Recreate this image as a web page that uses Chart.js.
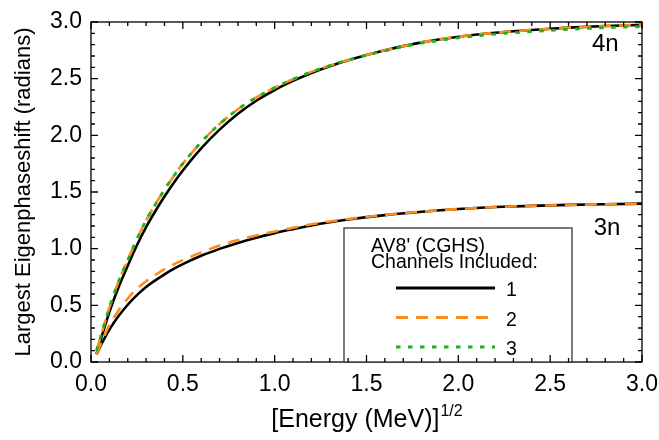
<!DOCTYPE html>
<html>
<head>
<meta charset="utf-8">
<script src="https://cdn.jsdelivr.net/npm/chart.js@4/dist/chart.umd.min.js"></script>
<style>
  html, body { margin: 0; padding: 0; background: #fff; }
  #wrap { width: 659px; height: 440px; }
</style>
</head>
<body>
<div id="wrap"><canvas id="c" width="659" height="440"></canvas></div>
<script>
// sqrt(Energy) grid (MeV^1/2)
const xValues = [0.03, 0.05, 0.1, 0.15, 0.2, 0.25, 0.3, 0.35, 0.4, 0.45, 0.5, 0.6, 0.7, 0.8, 0.9, 1.0, 1.1, 1.2, 1.3, 1.4, 1.6, 1.8, 2.0, 2.2, 2.4, 2.6, 2.8, 3.0];

// 4n largest eigenphaseshift
const n4_ch1 = [0.07, 0.18, 0.44, 0.66, 0.85, 1.03, 1.19, 1.33, 1.46, 1.58, 1.69, 1.885, 2.05, 2.19, 2.305, 2.40, 2.48, 2.55, 2.61, 2.662, 2.75, 2.82, 2.87, 2.905, 2.93, 2.95, 2.965, 2.975];
const n4_ch2 = [0.10, 0.21, 0.48, 0.71, 0.90, 1.085, 1.25, 1.39, 1.52, 1.64, 1.75, 1.94, 2.10, 2.23, 2.335, 2.42, 2.495, 2.56, 2.615, 2.665, 2.75, 2.82, 2.87, 2.905, 2.93, 2.95, 2.965, 2.975];
const n4_ch3 = [0.10, 0.21, 0.48, 0.71, 0.90, 1.085, 1.25, 1.39, 1.52, 1.64, 1.75, 1.94, 2.10, 2.23, 2.335, 2.42, 2.495, 2.56, 2.615, 2.665, 2.746, 2.813, 2.86, 2.893, 2.915, 2.935, 2.95, 2.96];

// 3n largest eigenphaseshift
const n3_ch1 = [0.07, 0.135, 0.285, 0.405, 0.505, 0.59, 0.662, 0.72, 0.774, 0.822, 0.864, 0.937, 0.998, 1.051, 1.097, 1.137, 1.172, 1.205, 1.233, 1.257, 1.296, 1.326, 1.35, 1.367, 1.378, 1.386, 1.392, 1.397];
const n3_ch2 = [0.07, 0.145, 0.325, 0.455, 0.56, 0.645, 0.712, 0.768, 0.819, 0.862, 0.899, 0.967, 1.028, 1.076, 1.117, 1.152, 1.184, 1.215, 1.24, 1.262, 1.298, 1.327, 1.35, 1.367, 1.378, 1.386, 1.392, 1.397];

const xTickLabels = ["0.0", "0.5", "1.0", "1.5", "2.0", "2.5", "3.0"];
const yTickLabels = ["0.0", "0.5", "1.0", "1.5", "2.0", "2.5", "3.0"];
const legendTitle = ["AV8' (CGHS)", "Channels Included:"];
const legendLabels = ["1", "2", "3"];
const curveLabels = [{ text: "4n", x: 2.80, y: 2.80 }, { text: "3n", x: 2.81, y: 1.18 }];

const BLACK = "#000000", ORANGE = "#ff8c1a", GREEN = "#18b418";
const FONT = "'Liberation Sans', Arial, sans-serif";
const styles = [
  { color: BLACK, dash: [], width: 2.6 },
  { color: ORANGE, dash: [12, 8], width: 2.6 },
  { color: GREEN, dash: [4.5, 7.5], width: 2.8 }
];

function pts(ys) { return xValues.map((x, i) => ({ x: x, y: ys[i] })); }
function ds(ys, s, order) {
  return { data: pts(ys), borderColor: styles[s].color, borderDash: styles[s].dash, borderWidth: styles[s].width,
           pointRadius: 0, fill: false, cubicInterpolationMode: 'monotone', order: order };
}

const framePlugin = {
  id: 'frame',
  afterDatasetsDraw(chart) {
    const ctx = chart.ctx, a = chart.chartArea;
    const xs = chart.scales.x, ys = chart.scales.y;
    ctx.save();
    ctx.strokeStyle = '#000'; ctx.lineWidth = 1.3; ctx.setLineDash([]);
    ctx.strokeRect(a.left, a.top, a.right - a.left, a.bottom - a.top);
    ctx.beginPath();
    for (let i = 0; i <= 30; i++) {
      const v = i / 10, major = i % 5 === 0;
      const L = major ? 7 : 4;
      const px = xs.getPixelForValue(v);
      ctx.moveTo(px, a.bottom); ctx.lineTo(px, a.bottom - L);
      ctx.moveTo(px, a.top); ctx.lineTo(px, a.top + L);
      const py = ys.getPixelForValue(v);
      ctx.moveTo(a.left, py); ctx.lineTo(a.left + L, py);
      ctx.moveTo(a.right, py); ctx.lineTo(a.right - L, py);
    }
    ctx.stroke();

    // curve labels
    ctx.fillStyle = '#000';
    ctx.font = "24px " + FONT;
    ctx.textAlign = 'center'; ctx.textBaseline = 'middle';
    curveLabels.forEach(c => ctx.fillText(c.text, xs.getPixelForValue(c.x), ys.getPixelForValue(c.y)));

    // legend box
    const bx = a.left + 253, by = a.top + 206, bw = 228, bh = a.bottom - by;
    ctx.fillStyle = '#fff';
    ctx.fillRect(bx, by, bw, bh);
    ctx.strokeStyle = '#333'; ctx.lineWidth = 1.3;
    ctx.strokeRect(bx, by, bw, bh);
    // redraw bottom ticks inside the legend box region
    ctx.strokeStyle = '#000'; ctx.lineWidth = 1.3;
    ctx.beginPath();
    for (let i = 0; i <= 30; i++) {
      const px = xs.getPixelForValue(i / 10);
      if (px > bx && px < bx + bw) { ctx.moveTo(px, a.bottom); ctx.lineTo(px, a.bottom - (i % 5 === 0 ? 7 : 4)); }
    }
    ctx.stroke();
    ctx.fillStyle = '#000';
    ctx.font = "19.5px " + FONT;
    ctx.textAlign = 'left'; ctx.textBaseline = 'alphabetic';
    ctx.fillText(legendTitle[0], bx + 27, by + 24);
    ctx.fillText(legendTitle[1], bx + 27, by + 40);
    legendLabels.forEach((lab, i) => {
      const ly = by + 60 + i * 29.5;
      ctx.save();
      ctx.strokeStyle = styles[i].color; ctx.lineWidth = 3; ctx.setLineDash(styles[i].dash);
      ctx.beginPath(); ctx.moveTo(bx + 52, ly); ctx.lineTo(bx + 151, ly); ctx.stroke();
      ctx.restore();
      ctx.font = "19.5px " + FONT;
      ctx.textBaseline = 'middle';
      ctx.fillText(lab, bx + 162, ly + 3);
    });

    // x axis title with superscript
    const main = "[Energy (MeV)]", sup = "1/2";
    ctx.font = "25px " + FONT;
    const w1 = ctx.measureText(main).width;
    ctx.font = "16px " + FONT;
    const w2 = ctx.measureText(sup).width;
    const cx = (a.left + a.right) / 2;
    const sx = cx - (w1 + w2) / 2;
    ctx.textBaseline = 'alphabetic'; ctx.textAlign = 'left';
    ctx.font = "25px " + FONT;
    ctx.fillText(main, sx, 427);
    ctx.font = "16px " + FONT;
    ctx.fillText(sup, sx + w1 + 1, 416);
    ctx.restore();
  }
};

new Chart(document.getElementById('c'), {
  type: 'line',
  data: {
    datasets: [
      ds(n4_ch3, 2, 1),
      ds(n4_ch2, 1, 2),
      ds(n3_ch2, 1, 2),
      ds(n4_ch1, 0, 3),
      ds(n3_ch1, 0, 3)
    ]
  },
  options: {
    responsive: false,
    animation: false,
    devicePixelRatio: 1,
    layout: { padding: { left: 0, right: 17, top: 22, bottom: 0 } },
    plugins: { legend: { display: false }, tooltip: { enabled: false }, title: { display: false } },
    scales: {
      x: {
        type: 'linear', min: 0, max: 3,
        afterFit(s) { s.height = 78; s.paddingLeft = 0; s.paddingRight = 0; },
        grid: { display: false, drawTicks: false },
        border: { display: false },
        ticks: { stepSize: 0.5, padding: 9, color: '#000', font: { size: 23, family: FONT },
                 callback: (v) => xTickLabels[Math.round(v * 2)], maxRotation: 0 }
      },
      y: {
        type: 'linear', min: 0, max: 3,
        afterFit(s) { s.width = 91; s.paddingTop = 0; s.paddingBottom = 0; },
        grid: { display: false, drawTicks: false },
        border: { display: false },
        title: { display: true, text: 'Largest Eigenphaseshift (radians)', color: '#000',
                 font: { size: 22, family: FONT }, padding: { top: 11, bottom: 0 } },
        ticks: { stepSize: 0.5, padding: 9, color: '#000', font: { size: 23, family: FONT },
                 callback: (v) => yTickLabels[Math.round(v * 2)] }
      }
    }
  },
  plugins: [framePlugin]
});
</script>
</body>
</html>
